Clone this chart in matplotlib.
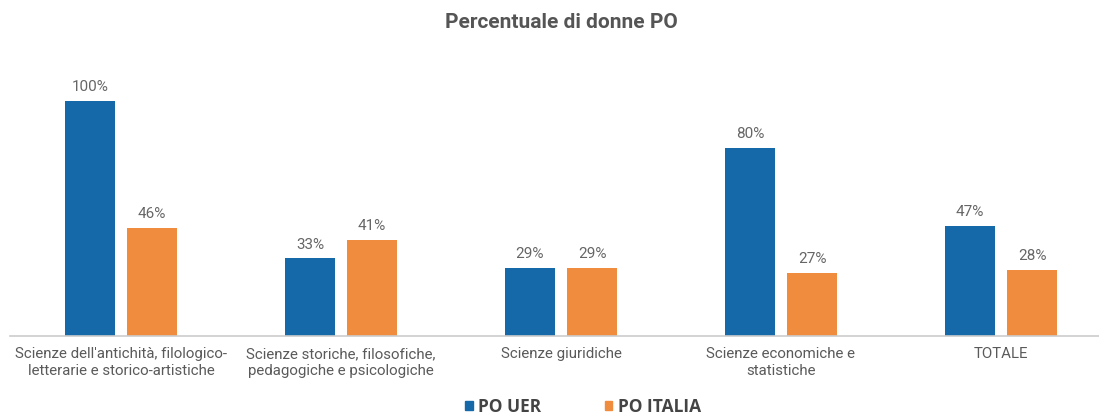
import matplotlib
matplotlib.use("Agg")
import matplotlib.pyplot as plt
import numpy as np
from matplotlib.patches import Patch

categories = [
    "Scienze dell'antichità, filologico-\nletterarie e storico-artistiche",
    "Scienze storiche, filosofiche,\npedagogiche e psicologiche",
    "Scienze giuridiche",
    "Scienze economiche e\nstatistiche",
    "TOTALE",
]
po_uer = [100, 33, 29, 80, 47]
po_italia = [46, 41, 29, 27, 28]
series_names = ["PO UER", "PO ITALIA"]
colors = ["#1669a9", "#ef8c3d"]

W, H = 1099, 419
fig = plt.figure(figsize=(W / 100, H / 100), dpi=100)
# axes: left 10px, right 1099, top 60px, bottom at 336px
ax = fig.add_axes([10 / W, 1 - 336 / H, 1089 / W, (336 - 60) / H])

x = np.arange(len(categories))
bw = 0.223
off = 0.141
b1 = ax.bar(x - off, po_uer, bw, color=colors[0], label=series_names[0])
b2 = ax.bar(x + off, po_italia, bw, color=colors[1], label=series_names[1])

for bars, vals in ((b1, po_uer), (b2, po_italia)):
    for rect, v in zip(bars, vals):
        ax.annotate(f"{v}%", (rect.get_x() + rect.get_width() / 2, rect.get_height()),
                    xytext=(0, 5), textcoords="offset points", ha="center", va="bottom",
                    fontsize=11, color="#666666", family="Roboto")

ax.set_xlim(-111 / 220, -111 / 220 + 1089 / 220)
ax.set_ylim(0, 100 * (336 - 60) / 235)
ax.set_xticks(x)
ax.set_xticklabels(categories, fontsize=10.8, color="#5a5a5a", family="Roboto", linespacing=1.3)
ax.tick_params(axis="x", length=0, pad=8)
ax.set_yticks([])
for s in ["top", "left", "right"]:
    ax.spines[s].set_visible(False)
ax.spines["bottom"].set_color("#cccccc")
ax.spines["bottom"].set_linewidth(1.2)

fig.text(561 / W, 1 - 22 / H, "Percentuale di donne PO", ha="center", va="center",
         fontsize=15, fontweight="bold", color="#555555", family="Roboto")

handles = [Patch(color=c, label=n) for c, n in zip(colors, series_names)]
leg = fig.legend(handles=handles, loc="center", bbox_to_anchor=(583 / W, 1 - 407 / H),
                 ncol=2, frameon=False, handlelength=0.42, handleheight=0.42,
                 handletextpad=0.3, columnspacing=3.7, borderpad=0.1,
                 prop={"family": "Open Sans", "weight": "bold", "size": 12.5})
for t in leg.get_texts():
    t.set_color("#444444")

fig.savefig("out.png", dpi=100, facecolor="white")
